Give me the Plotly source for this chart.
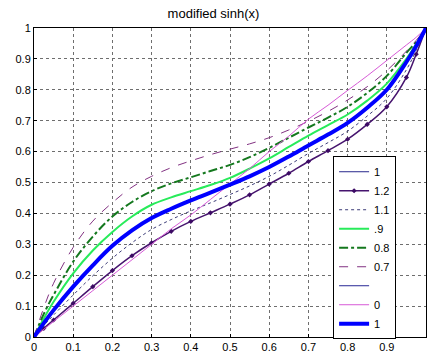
import plotly.graph_objects as go

x = [0, 0.025, 0.05, 0.1, 0.15, 0.2, 0.25, 0.3, 0.35, 0.4, 0.45, 0.5,
     0.55, 0.6, 0.65, 0.7, 0.75, 0.8, 0.85, 0.9, 0.95, 0.975, 1]

y_07 = [0, 0.095, 0.174, 0.29, 0.375, 0.435, 0.485, 0.52, 0.548, 0.57, 0.59, 0.608,
        0.625, 0.645, 0.67, 0.698, 0.73, 0.767, 0.81, 0.862, 0.925, 0.96, 1]
y_08 = [0, 0.075, 0.136, 0.244, 0.325, 0.39, 0.437, 0.472, 0.497, 0.517, 0.537, 0.557,
        0.582, 0.612, 0.645, 0.678, 0.71, 0.745, 0.79, 0.845, 0.92, 0.955, 1]
y_09 = [0, 0.06, 0.114, 0.206, 0.28, 0.34, 0.39, 0.428, 0.452, 0.472, 0.492, 0.515,
        0.545, 0.578, 0.615, 0.652, 0.686, 0.72, 0.765, 0.82, 0.9, 0.948, 1]
y_10 = [0, 0.045, 0.087, 0.163, 0.232, 0.295, 0.345, 0.385, 0.415, 0.442, 0.467, 0.493,
        0.52, 0.55, 0.584, 0.62, 0.655, 0.693, 0.742, 0.80, 0.89, 0.942, 1]
y_11 = [0, 0.037, 0.071, 0.136, 0.198, 0.255, 0.305, 0.348, 0.38, 0.408, 0.434, 0.461,
        0.489, 0.52, 0.556, 0.594, 0.629, 0.666, 0.715, 0.772, 0.865, 0.928, 1]
y_12 = [0, 0.028, 0.055, 0.109, 0.163, 0.215, 0.263, 0.305, 0.342, 0.374, 0.402, 0.43,
        0.46, 0.495, 0.53, 0.568, 0.603, 0.64, 0.688, 0.745, 0.84, 0.915, 1]
y_00 = [0, 0.025, 0.05, 0.1, 0.15, 0.2, 0.25, 0.3, 0.35, 0.395, 0.445, 0.495,
        0.545, 0.6, 0.65, 0.705, 0.75, 0.798, 0.845, 0.895, 0.945, 0.97, 1]

legend_names = ["1", "1.2", "1.1", ".9", "0.8", "0.7", " ", "0", "1"]
x_ticks = [0, 0.1, 0.2, 0.3, 0.4, 0.5, 0.6, 0.7, 0.8, 0.9, 1]
x_ticklabels = ["0", "0.1", "0.2", "0.3", "0.4", "0.5", "0.6", "0.7", "0.8", "0.9", "1"]
y_ticks = x_ticks
y_ticklabels = x_ticklabels

FONT = "Liberation Sans, Arial, sans-serif"

fig = go.Figure()
sh = "spline"
fig.add_trace(go.Scatter(x=x, y=y_10, mode="lines", name=legend_names[0],
                         line=dict(color="rgb(40,40,140)", width=1, shape=sh)))
fig.add_trace(go.Scatter(x=x, y=y_12, mode="lines+markers", name=legend_names[1],
                         line=dict(color="rgb(70,20,110)", width=1.5, shape=sh),
                         marker=dict(symbol="diamond", size=4, color="rgb(60,10,100)")))
fig.add_trace(go.Scatter(x=x, y=y_11, mode="lines", name=legend_names[2],
                         line=dict(color="rgb(60,60,120)", width=1, dash="dot", shape=sh)))
fig.add_trace(go.Scatter(x=x, y=y_09, mode="lines", name=legend_names[3],
                         line=dict(color="rgb(40,235,90)", width=2, shape=sh)))
fig.add_trace(go.Scatter(x=x, y=y_08, mode="lines", name=legend_names[4],
                         line=dict(color="rgb(20,120,30)", width=2, dash="dashdot", shape=sh)))
fig.add_trace(go.Scatter(x=x, y=y_07, mode="lines", name=legend_names[5],
                         line=dict(color="rgb(130,50,130)", width=1, dash="dash", shape=sh)))
fig.add_trace(go.Scatter(x=x, y=y_10, mode="lines", name=legend_names[6],
                         line=dict(color="rgb(40,40,150)", width=1, shape=sh)))
fig.add_trace(go.Scatter(x=x, y=y_00, mode="lines", name=legend_names[7],
                         line=dict(color="rgb(215,90,215)", width=1, shape=sh)))
fig.add_trace(go.Scatter(x=x, y=y_10, mode="lines", name=legend_names[8],
                         line=dict(color="rgb(0,0,255)", width=4, shape=sh)))

axis_common = dict(
    range=[0, 1], showline=True, linecolor="black", linewidth=1, mirror=True,
    ticks="inside", ticklen=3, tickcolor="black", automargin=False,
    showgrid=True, gridcolor="rgb(110,110,110)", griddash="dot", gridwidth=1,
    zeroline=False, tickfont=dict(family=FONT, size=11, color="black"),
)

fig.update_layout(
    width=427, height=354,
    margin=dict(l=34, r=1, t=28, b=17),
    paper_bgcolor="white", plot_bgcolor="white",
    title=dict(text="modified sinh(x)", x=0.5, xanchor="center", y=0.962, yanchor="middle",
               font=dict(family=FONT, size=13, color="black")),
    xaxis=dict(tickvals=x_ticks, ticktext=x_ticklabels, **axis_common),
    yaxis=dict(tickvals=y_ticks, ticktext=y_ticklabels, **axis_common),
    legend=dict(x=0.763, y=0.585, xanchor="left", yanchor="top",
                bgcolor="white", bordercolor="black", borderwidth=1,
                font=dict(family=FONT, size=11, color="black"),
                tracegroupgap=0, itemwidth=30),
    showlegend=True,
)

fig.write_html("out.html", config={"displayModeBar": False},
               post_script="document.body.style.margin='0';")
